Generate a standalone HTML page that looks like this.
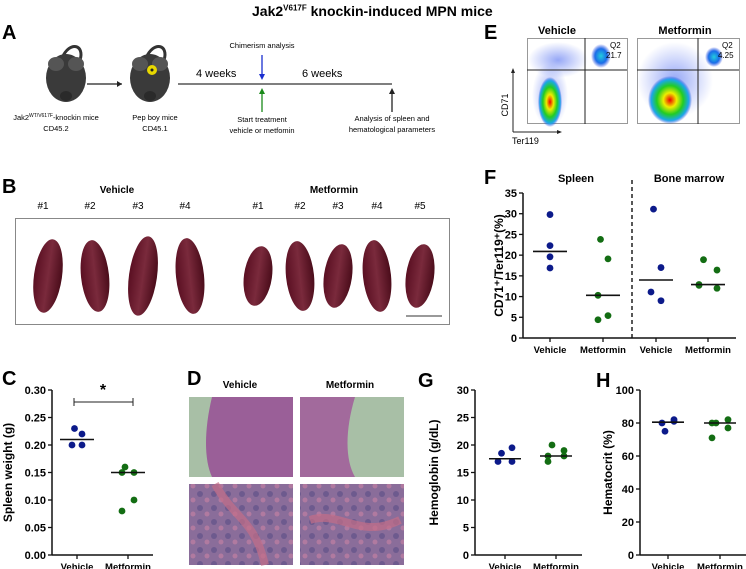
<!DOCTYPE html>
<html><head><meta charset="utf-8">
<style>
body{margin:0;width:746px;height:569px;background:#fff;font-family:"Liberation Sans",Arial,sans-serif;overflow:hidden;position:relative}
.abs{position:absolute}
.pl{position:absolute;font-weight:bold;font-size:20px}
</style></head><body>
<div class="abs" style="left:252px;top:3px;font-weight:bold;font-size:14px">Jak2<sup style="font-size:8px">V617F</sup> knockin-induced MPN mice</div>

<div class="pl" style="left:2px;top:22px">A</div>
<div class="pl" style="left:2px;top:176px">B</div>
<div class="pl" style="left:2px;top:368px">C</div>
<div class="pl" style="left:187px;top:368px">D</div>
<div class="pl" style="left:484px;top:22px">E</div>
<div class="pl" style="left:484px;top:167px">F</div>
<div class="pl" style="left:418px;top:370px">G</div>
<div class="pl" style="left:596px;top:370px">H</div>

<!-- Panel A -->
<svg class="abs" style="left:0;top:0" width="480" height="140">
 <g>
  <path d="M62,58 C70,40 85,45 80,60" stroke="#333" stroke-width="3" fill="none"/>
  <ellipse cx="66" cy="78" rx="20" ry="24" fill="#3a3a3a"/>
  <ellipse cx="56" cy="64" rx="8" ry="7" fill="#555"/><ellipse cx="76" cy="64" rx="8" ry="7" fill="#555"/>
  <ellipse cx="66" cy="96" rx="6" ry="5" fill="#2a2a2a"/>
 </g>
 <line x1="87" y1="84" x2="122" y2="84" stroke="#222" stroke-width="1.2"/><path d="M122,84 l-5,-3 v6z" fill="#222"/>
 <g>
  <path d="M146,58 C154,40 169,45 164,60" stroke="#333" stroke-width="3" fill="none"/>
  <ellipse cx="150" cy="78" rx="20" ry="24" fill="#3a3a3a"/>
  <ellipse cx="140" cy="64" rx="8" ry="7" fill="#555"/><ellipse cx="160" cy="64" rx="8" ry="7" fill="#555"/>
  <ellipse cx="150" cy="96" rx="6" ry="5" fill="#2a2a2a"/>
  <circle cx="152" cy="70" r="5" fill="#e8d800"/><circle cx="152" cy="70" r="1.5" fill="#222"/>
 </g>
 <line x1="178" y1="84" x2="392" y2="84" stroke="#333" stroke-width="1.2"/>
 <line x1="262" y1="55" x2="262" y2="78" stroke="#1a2fd0" stroke-width="1.3"/><path d="M262,80 l-3,-6 h6z" fill="#1a2fd0"/>
 <line x1="262" y1="112" x2="262" y2="90" stroke="#1a8a1a" stroke-width="1.3"/><path d="M262,88 l-3,6 h6z" fill="#1a8a1a"/>
 <line x1="392" y1="112" x2="392" y2="90" stroke="#222" stroke-width="1.3"/><path d="M392,88 l-3,6 h6z" fill="#222"/>
 <text x="196" y="77" font-size="11">4 weeks</text>
 <text x="302" y="77" font-size="11">6 weeks</text>
 <text x="262" y="48" font-size="7.5" text-anchor="middle">Chimerism analysis</text>
 <text x="56" y="120" font-size="7.5" text-anchor="middle">Jak2<tspan font-size="5" dy="-3">WT/V617F</tspan><tspan dy="3">-knockin mice</tspan></text>
 <text x="56" y="131" font-size="7.5" text-anchor="middle">CD45.2</text>
 <text x="155" y="120" font-size="7.5" text-anchor="middle">Pep boy mice</text>
 <text x="155" y="131" font-size="7.5" text-anchor="middle">CD45.1</text>
 <text x="262" y="122" font-size="7.5" text-anchor="middle">Start treatment</text>
 <text x="262" y="133" font-size="7.5" text-anchor="middle">vehicle or metfomin</text>
 <text x="392" y="121" font-size="7.5" text-anchor="middle">Analysis of spleen and</text>
 <text x="392" y="132" font-size="7.5" text-anchor="middle">hematological parameters</text>
</svg>

<!-- Panel B -->
<svg class="abs" style="left:0;top:170px" width="490" height="160">
 <defs>
  <linearGradient id="sg" x1="0" x2="1"><stop offset="0" stop-color="#5a0f22"/><stop offset=".5" stop-color="#7a2a3c"/><stop offset="1" stop-color="#4a0c1a"/></linearGradient>
 </defs>
 <text x="117" y="23" font-size="10" font-weight="bold" text-anchor="middle">Vehicle</text>
 <text x="334" y="23" font-size="10" font-weight="bold" text-anchor="middle">Metformin</text>
 <g font-size="10" text-anchor="middle" id="nums"></g>
 <rect x="15.5" y="48.5" width="434" height="106" fill="#fff" stroke="#888"/>
 <g id="spl"></g>
 <line x1="406" y1="146" x2="442" y2="146" stroke="#333"/>
</svg>

<!-- Panel D -->
<svg class="abs" style="left:0;top:0" width="420" height="569">
 <defs>
  <pattern id="tex" width="14" height="14" patternUnits="userSpaceOnUse"><rect width="14" height="14" fill="#8a6d9a"/><circle cx="4" cy="4" r="3" fill="#6d5a8e"/><circle cx="11" cy="10" r="2.5" fill="#b07aa0"/></pattern>
 </defs>
 <text x="240" y="388" font-size="10" font-weight="bold" text-anchor="middle">Vehicle</text>
 <text x="350" y="388" font-size="10" font-weight="bold" text-anchor="middle">Metformin</text>
 <rect x="189" y="397" width="104" height="80" fill="#a8bfa6"/>
 <path d="M212,397 C204,430 204,460 212,477 L293,477 L293,397Z" fill="#9a5f98"/>
 <rect x="300" y="397" width="104" height="80" fill="#a8bfa6"/>
 <path d="M300,397 L355,397 C345,430 345,460 355,477 L300,477Z" fill="#a26a9c"/>
 <rect x="189" y="484" width="104" height="81" fill="url(#tex)"/>
 <path d="M215,484 C235,520 255,520 265,565" stroke="#c36d88" stroke-width="8" fill="none" opacity=".7"/>
 <rect x="300" y="484" width="104" height="81" fill="url(#tex)"/>
 <path d="M310,520 C340,510 360,540 400,520" stroke="#c36d88" stroke-width="8" fill="none" opacity=".7"/>
</svg>

<!-- Panel E -->
<svg class="abs" style="left:490px;top:20px" width="256" height="130">
 <defs>
  <radialGradient id="hot"><stop offset="0" stop-color="#e00"/><stop offset=".3" stop-color="#ee0"/><stop offset=".6" stop-color="#2c2"/><stop offset=".85" stop-color="#1aa8e8"/><stop offset="1" stop-color="#2040e0" stop-opacity="0"/></radialGradient>
  <radialGradient id="cool"><stop offset="0" stop-color="#2cd"/><stop offset=".6" stop-color="#1a6ce8"/><stop offset="1" stop-color="#2040e0" stop-opacity="0"/></radialGradient>
  <radialGradient id="haze"><stop offset="0" stop-color="#4060f0" stop-opacity=".55"/><stop offset="1" stop-color="#4060f0" stop-opacity="0"/></radialGradient>
 </defs>
 <text x="67" y="14" font-size="11" font-weight="bold" text-anchor="middle">Vehicle</text>
 <text x="195" y="14" font-size="11" font-weight="bold" text-anchor="middle">Metformin</text>
 <rect x="37.5" y="18.5" width="100" height="85" fill="#fff" stroke="#999"/>
 <ellipse cx="68" cy="40" rx="30" ry="18" fill="url(#haze)"/>
 <ellipse cx="60" cy="75" rx="18" ry="32" fill="url(#haze)"/>
 <ellipse cx="60" cy="82" rx="12" ry="25" fill="url(#hot)"/>
 <ellipse cx="111" cy="36" rx="10" ry="12" fill="url(#cool)"/>
 <line x1="37" y1="50" x2="137" y2="50" stroke="#222"/><line x1="95" y1="18" x2="95" y2="104" stroke="#222"/>
 <text x="120" y="28" font-size="8">Q2</text><text x="116" y="38" font-size="8">21.7</text>
 <rect x="147.5" y="18.5" width="102" height="85" fill="#fff" stroke="#999"/>
 <ellipse cx="185" cy="60" rx="38" ry="38" fill="url(#haze)"/>
 <ellipse cx="180" cy="80" rx="22" ry="24" fill="url(#hot)"/>
 <ellipse cx="224" cy="37" rx="9" ry="10" fill="url(#cool)"/>
 <line x1="147" y1="50" x2="249" y2="50" stroke="#222"/><line x1="208" y1="18" x2="208" y2="104" stroke="#222"/>
 <text x="232" y="28" font-size="8">Q2</text><text x="228" y="38" font-size="8">4.25</text>
 <line x1="23" y1="112" x2="23" y2="50" stroke="#222"/><path d="M23,48 l-2,5 h4z" fill="#222"/>
 <line x1="23" y1="112" x2="70" y2="112" stroke="#222"/><path d="M72,112 l-5,-2 v4z" fill="#222"/>
 <text x="18" y="85" font-size="9" text-anchor="middle" transform="rotate(-90 18 85)">CD71</text>
 <text x="22" y="124" font-size="9">Ter119</text>
</svg>

<svg id="charts" class="abs" style="left:0;top:0" width="746" height="569"></svg>

<script>
// Panel C: spleen weight (g)
const cCats=["Vehicle","Metformin"];
const cVehicle=[0.23,0.22,0.20,0.20];
const cMetformin=[0.16,0.15,0.15,0.10,0.08];
const cMeans=[0.21,0.15];
const cTicks=[0,0.05,0.10,0.15,0.20,0.25,0.30];
// Panel F: CD71+/Ter119+ (%)
const fCats=["Vehicle","Metformin","Vehicle","Metformin"];
const fSpleenVeh=[29.8,22.3,19.6,16.9];
const fSpleenMet=[23.8,19.1,10.3,5.4,4.4];
const fBmVeh=[31.1,17.0,11.1,9.0];
const fBmMet=[18.9,16.4,12.9,12.0,12.7];
const fMeans=[20.9,10.3,14.0,12.9];
const fTicks=[0,5,10,15,20,25,30,35];
// Panel G: Hemoglobin (g/dL)
const gVeh=[18.5,19.5,17.0,17.0];
const gMet=[20.0,19.0,18.0,18.0,17.0];
const gMeans=[17.5,18.0];
const gTicks=[0,5,10,15,20,25,30];
// Panel H: Hematocrit (%)
const hVeh=[75,82,80,81];
const hMet=[80,77,71,82,80];
const hMeans=[80.5,80];
const hTicks=[0,20,40,60,80,100];
// Panel B
const vehNums=["#1","#2","#3","#4"];
const metNums=["#1","#2","#3","#4","#5"];

const NS="http://www.w3.org/2000/svg";
const svg=document.getElementById('charts');
function mk(tag,attrs,parent){const e=document.createElementNS(NS,tag);for(const k in attrs)e.setAttribute(k,attrs[k]);(parent||svg).appendChild(e);return e;}
function txt(x,y,s,size,anchor,extra){const t=mk('text',Object.assign({x:x,y:y,'font-size':size,'font-weight':'bold','text-anchor':anchor||'middle'},extra||{}));t.textContent=s;return t;}

function axis(x0,x1,yb,yt,ticks,fmt,ylabel,lx,cats,catx){
  const max=ticks[ticks.length-1];
  const sy=v=>yb-(v/max)*(yb-yt);
  const ax=mk('line',{x1:x0,y1:yt,x2:x0,y2:yb,stroke:'#111','stroke-width':1.5});
  
  
  const bx=mk('line',{x1:x0,y1:yb,x2:x1,y2:yb,stroke:'#111','stroke-width':1.5});
  
  
  ticks.forEach(t=>{mk('line',{x1:x0-4,y1:sy(t),x2:x0,y2:sy(t),stroke:'#111','stroke-width':1.3});
    const l=txt(x0-6,sy(t)+4,fmt(t),11,'end');
    
    });
  cats.forEach((c,i)=>{mk('line',{x1:catx[i],y1:yb,x2:catx[i],y2:yb+4,stroke:'#111','stroke-width':1.3});
    const l=txt(catx[i],yb+15,c,9.5);
    
    });
  const yl=txt(lx,(yb+yt)/2,ylabel,12,'middle',{transform:`rotate(-90 ${lx} ${(yb+yt)/2})`});
  
  
  return sy;
}
function dots(vals,cx,sy,color,spread){
  vals.forEach((v,i)=>{
    const off=(i%2===0?-1:1)*spread*(i===0?0.5:1)*(vals.length>1?1:0);
    const d=mk('circle',{cx:cx+off,cy:sy(v),r:3.4,fill:color});
    
    
  });
}
function mean(v,cx,sy,w){const m=mk('line',{x1:cx-w,y1:sy(v),x2:cx+w,y2:sy(v),stroke:'#111','stroke-width':1.6});
  
  }
const BLUE='#0c1a8a',GREEN='#136d13';

// C
let sy=axis(52,153,555,390,cTicks,t=>t.toFixed(2),"Spleen weight (g)",12,cCats,[77,128]);
dots(cVehicle,77,sy,BLUE,5);dots(cMetformin,128,sy,GREEN,6);
mean(cMeans[0],77,sy,17);mean(cMeans[1],128,sy,17);
mk('line',{x1:74,y1:402,x2:133,y2:402,stroke:'#222'});mk('line',{x1:74,y1:398,x2:74,y2:406,stroke:'#222'});mk('line',{x1:133,y1:398,x2:133,y2:406,stroke:'#222'});
const star=txt(103,395,"*",16);



// F
sy=axis(523,736,338,193,fTicks,t=>String(t),"CD71⁺/Ter119⁺(%)",503,fCats,[550,603,656,708]);
dots(fSpleenVeh,550,sy,BLUE,0);dots(fSpleenMet,603,sy,GREEN,5);
dots(fBmVeh,656,sy,BLUE,5);dots(fBmMet,708,sy,GREEN,9);
[550,603,656,708].forEach((x,i)=>mean(fMeans[i],x,sy,17));
const dl=mk('line',{x1:632,y1:180,x2:632,y2:338,stroke:'#111','stroke-width':1.4,'stroke-dasharray':'4,3'});


txt(576,182,"Spleen",11);txt(689,182,"Bone marrow",11);

// G
sy=axis(475,582,555,390,gTicks,t=>String(t),"Hemoglobin (g/dL)",438,cCats,[505,556]);
dots(gVeh,505,sy,BLUE,7);dots(gMet,556,sy,GREEN,8);
mean(gMeans[0],505,sy,16);mean(gMeans[1],556,sy,16);

// H
sy=axis(640,746,555,390,hTicks,t=>String(t),"Hematocrit (%)",612,cCats,[668,720]);
dots(hVeh,668,sy,BLUE,6);dots(hMet,720,sy,GREEN,8);
mean(hMeans[0],668,sy,16);mean(hMeans[1],720,sy,16);

// Panel B spleens
const nums=document.getElementById('nums'),spl=document.getElementById('spl');
const vx=[48,95,143,190],mx=[258,300,338,377,420];
vehNums.forEach((n,i)=>{const t=mk('text',{x:vx[i]-5,y:39},nums);t.textContent=n;});
metNums.forEach((n,i)=>{const t=mk('text',{x:mx[i],y:39},nums);t.textContent=n;});
vx.concat(mx).forEach((x,i)=>{
  const h=i<4?[37,36,40,38][i]:[30,35,32,36,32][i-4];
  const e=mk('ellipse',{cx:x,cy:106,rx:14,ry:h,fill:'url(#sg)',transform:`rotate(${i%2?-6:8} ${x} 106)`},spl);
  
  
});
</script>
</body></html>
